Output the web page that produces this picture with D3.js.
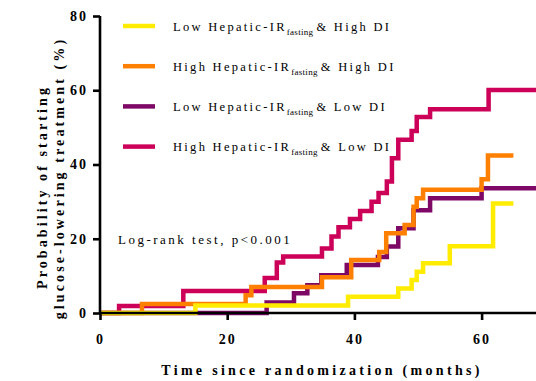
<!DOCTYPE html>
<html>
<head>
<meta charset="utf-8">
<script src="https://cdn.jsdelivr.net/npm/d3@7"></script>
<style>
  body { margin: 0; background: #fff; }
  svg { display: block; font-family: "Liberation Serif", "DejaVu Serif", serif; }
</style>
</head>
<body>
<div id="chart-area"></div>
<script>
// group labels (the subscript part sits between prefix and suffix)
const labelPrefix = ["Low Hepatic-IR", "High Hepatic-IR", "Low Hepatic-IR", "High Hepatic-IR"];
const labelSub = "fasting";
const labelSuffix = ["& High DI", "& High DI", "& Low DI", "& Low DI"];
const colors = ["#ffec00", "#ff8000", "#7e0866", "#cc0058"];

// step curves: time (months) and cumulative probability (%)
const yellowTime = [0, 15.0, 39.0, 46.9, 49.0, 49.8, 50.8, 55.0, 61.8, 65.0];
const yellowProb = [0, 2.0, 4.4, 6.6, 8.9, 11.1, 13.4, 18.0, 29.5, 29.5];

const orangeTime = [0, 6.6, 22.9, 23.8, 34.9, 39.5, 43.9, 45.0, 47.9, 49.3, 49.8, 50.8, 60.0, 61.0, 65.0];
const orangeProb = [0, 2.4, 4.8, 7.0, 9.6, 14.3, 16.4, 21.5, 23.7, 28.6, 30.9, 33.2, 36.0, 42.4, 42.4];

const purpleTime = [0, 26.2, 30.5, 32.6, 34.8, 38.8, 43.7, 45.1, 46.9, 49.3, 51.9, 60.0, 70];
const purpleProb = [0, 2.8, 5.3, 7.5, 10.2, 12.9, 15.1, 17.9, 22.8, 27.7, 30.9, 33.6, 33.6];

const pinkTime = [0, 3.0, 13.1, 25.9, 27.8, 28.8, 34.9, 36.4, 37.5, 39.3, 40.9, 42.7, 43.8, 45.1, 45.9, 46.9, 49.0, 49.8, 51.9, 61.1, 70];
const pinkProb = [0, 1.9, 5.9, 9.4, 13.6, 15.2, 17.4, 20.6, 23.1, 25.3, 27.5, 30.0, 32.3, 35.4, 41.7, 46.7, 49.0, 52.8, 54.9, 60.1, 60.1];

const xTicks = [0, 20, 40, 60];
const yTicks = [0, 20, 40, 60, 80];

const width = 536, height = 381;

const svg = d3.select("#chart-area")
  .append("svg")
    .attr("width", width)
    .attr("height", height);

// scales
const x = d3.scaleLinear().domain([0, 70]).range([100, 545.2]);
const y = d3.scaleLinear().domain([0, 80]).range([313, 16]);

// curves, drawn bottom to top
const series = [
  { t: pinkTime, p: pinkProb, c: colors[3] },
  { t: purpleTime, p: purpleProb, c: colors[2] },
  { t: orangeTime, p: orangeProb, c: colors[1] },
  { t: yellowTime, p: yellowProb, c: colors[0] }
];

const line = d3.line()
  .x(d => x(d[0]))
  .y(d => y(d[1]))
  .curve(d3.curveStepAfter);

series.forEach(function(s) {
  svg.append("path")
    .datum(d3.zip(s.t, s.p))
    .attr("fill", "none")
    .attr("stroke", s.c)
    .attr("stroke-width", 4.5)
    .attr("d", line);
});

// axes
const yAxis = svg.append("g")
  .attr("transform", "translate(" + x(0) + ",0)")
  .call(d3.axisLeft(y).tickValues(yTicks).tickSize(7).tickPadding(5).tickSizeOuter(0));
const xAxis = svg.append("g")
  .attr("transform", "translate(0," + y(0) + ")")
  .call(d3.axisBottom(x).tickValues(xTicks).tickSize(7).tickPadding(14).tickSizeOuter(0));

[xAxis, yAxis].forEach(function(a) {
  a.select(".domain").attr("stroke", "#000").attr("stroke-width", 2.6);
  a.selectAll(".tick line").attr("stroke", "#000").attr("stroke-width", 2.6);
  a.selectAll(".tick text")
    .attr("fill", "#000")
    .attr("font-family", "Liberation Serif")
    .attr("font-weight", "bold")
    .attr("font-size", "14px")
    .attr("letter-spacing", "2px");
});
yAxis.select(".domain").attr("d", "M0," + (y(0) + 1) + "V" + y(80));
xAxis.select(".domain").attr("d", "M" + (x(0) - 1) + ",0H" + width);

// axis titles
svg.append("text")
  .attr("x", 322)
  .attr("y", 375)
  .attr("text-anchor", "middle")
  .attr("font-weight", "bold")
  .attr("font-size", "14px")
  .attr("letter-spacing", "3.3px")
  .text("Time since randomization (months)");

const yTitle = svg.append("g")
  .attr("transform", "translate(0,180) rotate(-90)");
yTitle.append("text")
  .attr("x", -7)
  .attr("y", 47)
  .attr("text-anchor", "middle")
  .attr("font-weight", "bold")
  .attr("font-size", "14px")
  .attr("letter-spacing", "3.1px")
  .text("Probability of starting");
yTitle.append("text")
  .attr("x", 2)
  .attr("y", 64)
  .attr("text-anchor", "middle")
  .attr("font-weight", "bold")
  .attr("font-size", "14px")
  .attr("letter-spacing", "3.1px")
  .text("glucose-lowering treatment (%)");

// annotation
svg.append("text")
  .attr("x", 118)
  .attr("y", 244)
  .attr("font-size", "13px")
  .attr("letter-spacing", "2.5px")
  .text("Log-rank test, p<0.001");

// legend
const legendOrder = [0, 1, 2, 3];
legendOrder.forEach(function(i) {
  const yy = 26 + i * 40.2;
  svg.append("line")
    .attr("x1", 123).attr("x2", 155)
    .attr("y1", yy).attr("y2", yy)
    .attr("stroke", colors[i])
    .attr("stroke-width", 4.5);

  const t = svg.append("text")
    .attr("x", 173)
    .attr("y", yy + 4.5)
    .attr("font-size", "12.5px")
    .attr("letter-spacing", "2.3px");
  t.append("tspan").text(labelPrefix[i]);
  t.append("tspan")
    .attr("dy", 4)
    .attr("font-size", "9px")
    .attr("letter-spacing", "0.3px")
    .text(labelSub);
  t.append("tspan")
    .attr("dy", -4)
    .attr("dx", 3)
    .text(labelSuffix[i]);
});
</script>
</body>
</html>
